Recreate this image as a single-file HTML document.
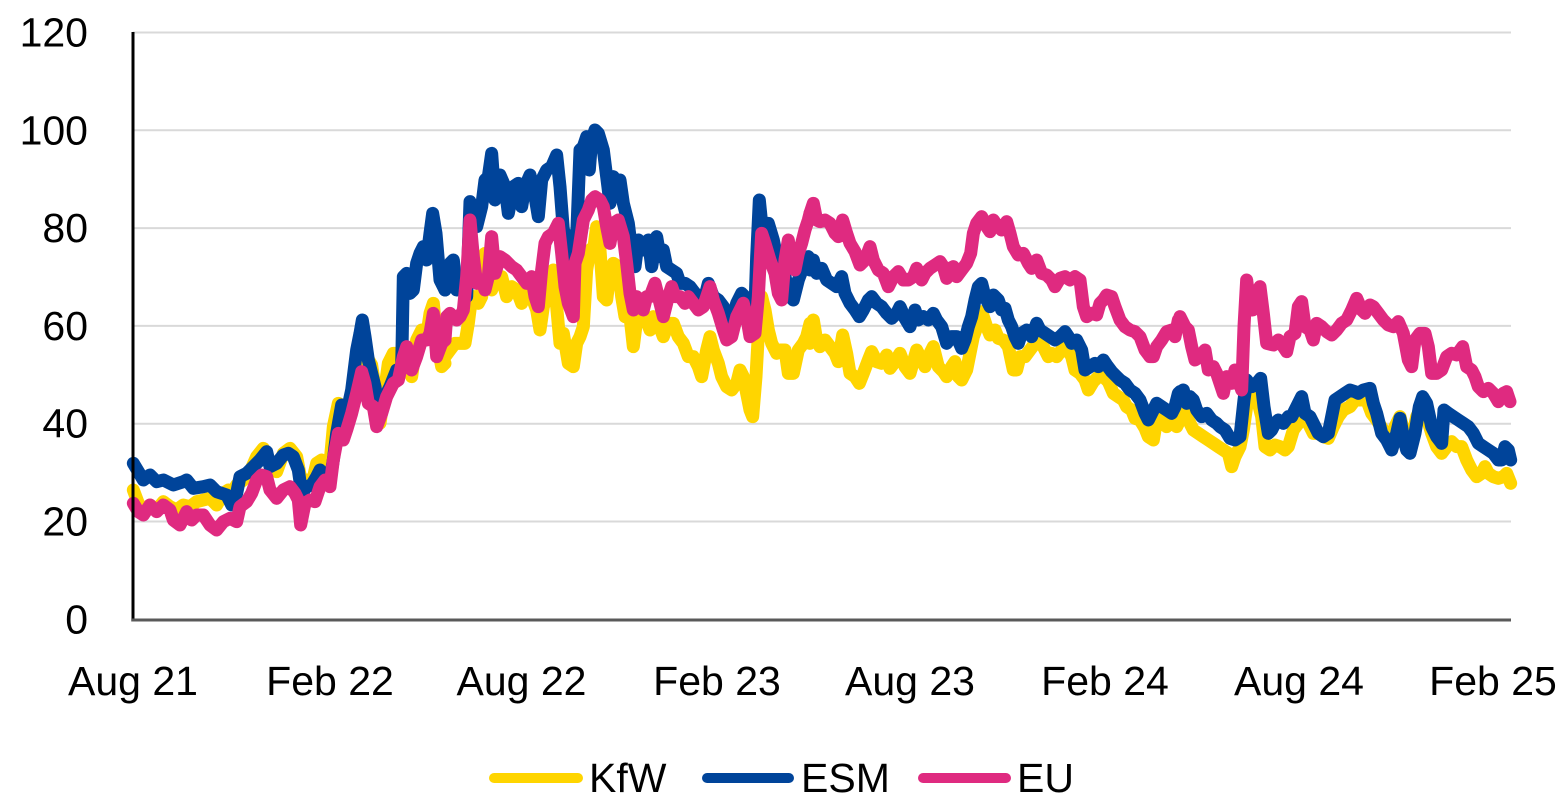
<!DOCTYPE html>
<html><head><meta charset="utf-8"><style>
html,body{margin:0;padding:0;background:#fff;}
svg{display:block;}
text{font-family:"Liberation Sans",Arial,sans-serif;fill:#000;}
</style></head><body>
<svg width="1566" height="810" viewBox="0 0 1566 810" xmlns="http://www.w3.org/2000/svg">
<g stroke="#d9d9d9" stroke-width="2">
<line x1="133" y1="32.5" x2="1511" y2="32.5"/>
<line x1="133" y1="130.3" x2="1511" y2="130.3"/>
<line x1="133" y1="228.1" x2="1511" y2="228.1"/>
<line x1="133" y1="325.9" x2="1511" y2="325.9"/>
<line x1="133" y1="423.7" x2="1511" y2="423.7"/>
<line x1="133" y1="521.5" x2="1511" y2="521.5"/>
</g>
<g font-size="41" text-anchor="end">
<text x="88" y="46.5">120</text>
<text x="88" y="144.3">100</text>
<text x="88" y="242.1">80</text>
<text x="88" y="339.9">60</text>
<text x="88" y="437.7">40</text>
<text x="88" y="535.5">20</text>
<text x="88" y="633.3">0</text>
</g>
<g font-size="41" text-anchor="middle">
<text x="133" y="695">Aug 21</text>
<text x="330" y="695">Feb 22</text>
<text x="521.5" y="695">Aug 22</text>
<text x="717" y="695">Feb 23</text>
<text x="910" y="695">Aug 23</text>
<text x="1105" y="695">Feb 24</text>
<text x="1299" y="695">Aug 24</text>
<text x="1493" y="695">Feb 25</text>
</g>
<g fill="none" stroke-width="13" stroke-linejoin="round" stroke-linecap="round">
<!-- KfW -->
<g stroke="#FFD500">
<polyline vector-effect="non-scaling-stroke" transform="translate(130,200) scale(0.33333)" points="10,870 25,910 40,930 60,915 80,930 100,905 120,920 140,930 160,915 180,920 200,905 220,900 240,895 260,915 280,880 295,870 305,880 320,855 340,840 360,815 380,770 400,745 410,760 420,790 440,815 460,760 480,745 500,770 515,850 530,840 545,855 560,790 575,780 590,800 600,790 610,680 625,610 640,620 655,640 665,610 680,560 695,510 710,470 725,495 740,600 750,670 760,600 775,490 790,460 805,460 815,500 830,460 845,530 860,420 875,390 890,410 900,340 910,310 920,420 935,500 945,490"/>
<polyline vector-effect="non-scaling-stroke" transform="translate(440,110) scale(0.33333)" points="15,740 30,720 45,700 60,700 75,700 85,640 95,560 105,560 115,580 125,560 135,430 145,510 155,540 170,500 185,500 200,560 215,530 230,540 245,580 260,540 275,560 290,600 300,660 310,590 320,560 330,490 340,480 350,590 360,700 370,670 385,760 400,770 410,700 420,680 430,650 440,480 450,420 462,410 470,350 480,420 490,560 500,570 510,490 520,460 535,470 545,560 555,620 570,620 580,710 590,630 600,600 615,620 630,660 640,620 655,640 670,680 685,640 700,640 715,680 730,700 745,740 760,740 775,770 785,800 800,720 810,680 820,720 835,760 845,800 860,830 875,840 890,820 900,780 910,800 920,850 930,900 938,920 948,800 958,620 965,560 975,600 985,660 995,700 1010,730 1020,720 1035,720 1045,790 1060,790 1075,720 1090,700 1100,680 1110,640"/>
<polyline vector-effect="non-scaling-stroke" transform="translate(800,180) scale(0.33333)" points="30,490 40,420 50,480 60,500 75,480 90,500 105,520 115,545 128,465 140,520 150,580 165,590 178,610 190,580 205,540 215,515 230,545 245,550 260,525 270,565 285,545 300,520 315,560 330,580 340,545 350,510 365,540 375,560 390,520 400,500 415,560 430,575 440,590 455,560 465,545 475,590 485,600 500,570 510,520 520,470 535,430 545,395 560,440 570,465 585,450 595,475 610,480 625,500 640,570 650,570 660,530 675,530 690,510 705,490 715,480 730,500 745,530 755,520 770,530 785,510 800,500 815,530 825,570 840,580 855,600 865,630 880,605 895,590 910,590 925,605 940,640 955,650 970,660 980,680 995,690 1005,715 1020,720 1035,745 1045,770 1060,780 1070,720 1085,710 1100,740 1115,725 1130,740 1140,720"/>
<polyline vector-effect="non-scaling-stroke" transform="translate(1170,260) scale(0.33333)" points="30,460 45,440 55,480 70,510 85,520 100,530 115,540 130,550 145,560 160,570 175,580 185,620 195,590 210,560 220,510 230,440 245,400 255,410 265,430 275,470 285,560 300,570 315,555 330,560 345,570 355,560 370,510 385,490 400,470 415,490 430,520 445,520 460,530 475,535 490,500 505,470 520,450 540,440 555,420 575,420 590,420 605,460 620,480 640,510 660,540 675,500 690,470 705,530 715,560 725,540 740,470 755,440 770,470 785,520 800,560 815,580 830,560 845,545 860,560 875,560 890,600 905,630 920,650 935,640 945,620 955,640 970,650 985,655 1000,650 1010,640 1022,670"/>
</g>
<!-- ESM -->
<g stroke="#00449A">
<polyline vector-effect="non-scaling-stroke" transform="translate(130,200) scale(0.33333)" points="10,790 40,840 60,825 80,845 100,840 130,855 160,845 170,840 190,865 220,860 240,855 260,875 290,885 305,915 320,880 330,830 350,820 370,800 390,780 410,755 420,800 440,790 460,765 475,760 490,770 505,810 515,880 530,860 545,855 560,830 570,810 585,830 600,840 610,780 620,700 635,615 650,640 665,570 680,450 690,400 697,360 705,410 715,480 725,520 735,560 745,640 760,600 780,560 800,510 815,505 820,230 830,220 840,280 850,270 860,190 870,160 880,140 890,180 900,100 908,40 918,100 930,240 945,270"/>
<polyline vector-effect="non-scaling-stroke" transform="translate(440,110) scale(0.33333)" points="15,540 30,460 40,450 50,540 65,510 80,560 90,275 100,300 110,350 125,290 135,210 145,200 155,130 165,270 180,195 195,230 205,310 220,230 235,220 245,290 255,230 270,195 285,260 295,320 305,210 320,180 335,170 350,135 360,230 370,360 385,390 400,440 410,380 420,120 430,110 440,80 448,180 455,90 465,60 475,70 490,120 500,200 510,280 520,200 530,260 540,210 550,280 565,340 575,420 585,470 595,390 610,420 625,390 635,470 650,380 660,440 670,420 680,470 695,480 710,490 720,520 735,520 750,530 765,550 780,560 795,560 805,520 820,560 835,570 850,590 860,620 875,630 890,580 905,550 915,560 930,650 945,590 950,440 958,270 965,340 975,370 985,340 1000,390 1010,440 1020,500 1035,500 1050,560 1060,570 1075,510 1090,470 1105,440 1110,450"/>
<polyline vector-effect="non-scaling-stroke" transform="translate(800,180) scale(0.33333)" points="30,270 40,240 50,280 65,265 80,300 95,310 110,320 125,290 135,340 150,370 165,390 178,410 190,390 205,360 215,350 230,370 245,380 260,400 275,415 290,400 300,380 315,415 330,440 345,390 355,420 370,410 385,420 400,400 410,420 425,440 440,490 455,470 470,470 485,505 495,480 505,440 515,410 525,360 535,320 545,310 555,350 570,380 580,345 595,360 605,390 615,385 625,420 635,440 645,470 655,490 665,460 680,450 695,470 710,430 720,450 735,460 750,470 765,480 780,470 795,455 805,470 815,490 830,480 845,510 855,570 870,560 885,550 895,560 910,540 920,555 935,575 950,590 960,600 975,610 990,630 1005,640 1020,660 1035,700 1045,720 1060,690 1070,670 1085,680 1100,690 1115,700 1125,680 1135,640 1140,635"/>
<polyline vector-effect="non-scaling-stroke" transform="translate(1170,260) scale(0.33333)" points="30,420 40,390 50,430 60,410 70,420 80,450 95,470 110,460 125,480 140,490 150,500 165,510 180,535 195,540 210,530 222,420 230,360 245,380 260,370 272,355 282,440 295,520 305,510 315,490 325,480 340,490 355,470 365,470 380,440 395,410 405,460 420,470 430,490 445,520 460,530 475,520 485,470 495,420 510,410 525,400 540,390 555,395 565,400 580,390 600,385 610,430 620,460 635,520 650,540 665,570 680,520 690,475 700,530 710,570 720,580 735,520 748,440 758,410 770,430 785,500 800,530 815,550 822,450 835,460 850,470 865,480 880,490 895,500 910,520 925,550 940,560 955,570 970,580 985,600 995,600 1005,560 1015,570 1022,600"/>
</g>
<!-- EU -->
<g stroke="#DF2A80">
<polyline vector-effect="non-scaling-stroke" transform="translate(130,200) scale(0.33333)" points="10,910 25,935 40,945 60,915 80,935 100,915 120,930 130,960 150,975 170,935 185,960 200,945 220,945 240,975 260,990 280,965 300,955 320,965 330,920 350,905 365,880 380,840 395,825 410,830 420,870 440,895 460,870 480,860 495,880 505,900 512,975 525,910 540,900 555,905 570,860 585,840 600,860 610,780 625,700 640,720 650,690 665,640 680,580 695,515 705,550 715,610 730,620 740,680 755,640 770,590 790,550 805,540 820,470 830,440 845,510 860,470 875,420 890,420 900,400 910,340 920,470 935,430 945,420"/>
<polyline vector-effect="non-scaling-stroke" transform="translate(440,110) scale(0.33333)" points="15,690 20,620 30,610 40,620 50,630 60,620 70,600 80,500 90,330 100,440 110,520 125,510 135,540 145,500 155,380 165,490 180,440 195,450 205,460 215,470 230,480 245,500 260,520 275,500 285,560 295,590 305,480 315,400 325,380 340,370 355,340 365,430 375,530 385,580 400,620 405,460 415,430 430,330 445,300 455,270 465,260 480,270 490,290 500,350 510,400 520,340 535,330 550,380 560,460 570,550 580,600 590,560 600,570 610,600 620,560 630,560 645,520 655,560 670,620 685,560 695,530 705,560 720,560 735,580 745,560 760,580 775,600 790,590 800,560 810,530 820,570 835,610 850,660 860,690 875,680 890,620 900,600 910,580 920,620 930,680 945,670 955,560 965,370 975,400 990,450 1005,490 1015,550 1025,570 1035,450 1045,390 1055,470 1065,480 1075,430 1085,400 1095,360 1105,330 1110,310"/>
<polyline vector-effect="non-scaling-stroke" transform="translate(800,180) scale(0.33333)" points="30,100 40,70 50,120 60,125 75,120 90,130 105,160 115,170 128,120 140,160 150,190 165,215 180,255 195,240 210,200 220,240 235,270 250,280 265,320 280,290 295,275 310,300 325,300 340,290 350,265 365,300 375,280 390,265 405,255 420,245 430,260 440,295 450,265 460,260 470,290 485,270 500,250 512,220 520,160 530,130 545,110 560,140 570,155 580,120 590,135 605,150 620,125 630,160 640,200 655,225 670,220 685,250 695,265 710,240 725,280 740,285 755,300 765,320 780,295 795,290 810,300 825,290 840,300 850,380 860,410 875,400 890,405 900,370 910,360 920,345 935,350 945,380 960,420 975,440 990,450 1005,455 1020,470 1035,510 1050,530 1060,530 1070,500 1085,480 1100,455 1115,450 1125,470 1135,420 1140,415"/>
<polyline vector-effect="non-scaling-stroke" transform="translate(1170,260) scale(0.33333)" points="30,170 45,200 55,210 65,260 75,300 90,290 105,270 115,330 130,320 140,340 150,370 160,400 170,350 185,370 195,330 205,360 215,390 222,200 230,60 240,140 248,150 258,100 270,80 280,160 290,250 310,255 325,240 340,260 350,275 360,230 375,220 385,140 395,125 405,200 420,210 430,240 440,190 455,200 470,215 485,225 500,210 515,190 530,180 545,150 560,115 575,150 585,160 600,135 610,140 625,160 640,180 655,195 670,200 685,185 700,220 715,300 725,320 735,240 750,220 765,220 775,260 785,340 800,340 815,330 830,290 845,280 860,285 878,260 890,320 905,330 915,350 925,380 940,395 955,385 970,400 985,425 1000,400 1010,395 1020,425"/>
</g>
</g>
<line x1="133" y1="32" x2="133" y2="621.5" stroke="#000" stroke-width="3"/>
<line x1="132" y1="620" x2="1511" y2="620" stroke="#595959" stroke-width="3"/>
<g stroke-width="10" stroke-linecap="round">
<line x1="494" y1="778" x2="578" y2="778" stroke="#FFD500"/>
<line x1="707" y1="778" x2="789" y2="778" stroke="#00449A"/>
<line x1="923" y1="778" x2="1006" y2="778" stroke="#DF2A80"/>
</g>
<g font-size="41">
<text x="589" y="792">KfW</text>
<text x="801" y="792">ESM</text>
<text x="1017" y="792">EU</text>
</g>
</svg>
</body></html>
